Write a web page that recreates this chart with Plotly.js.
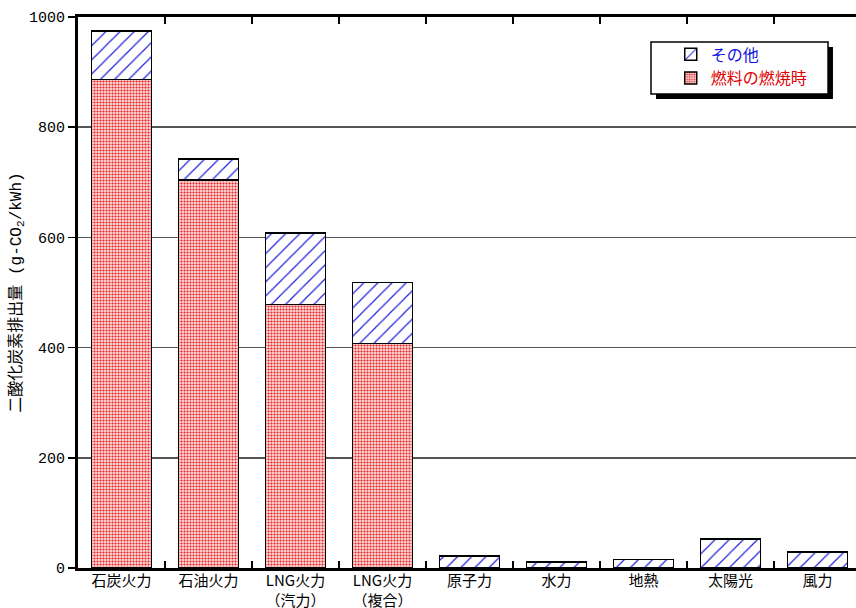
<!DOCTYPE html>
<html><head><meta charset="utf-8">
<script src="https://cdn.plot.ly/plotly-3.0.1.min.js"></script>
<style>html,body{margin:0;padding:0;overflow:hidden;background:#fff;}#chart{width:862px;height:608px;}</style>
</head><body><div id="chart"></div>
<script>
const categories = ["石炭火力","石油火力","LNG火力<br>（汽力）","LNG火力<br>（複合）","原子力","水力","地熱","太陽光","風力"];
const fuelCombustion = [887, 704, 478, 407, 0, 0, 0, 0, 0];
const otherEmission = [88, 38, 130, 111, 22, 11, 15, 53, 29];
const yTicks = [0, 200, 400, 600, 800, 1000];

const FONT = "'Noto Sans CJK JP', 'Noto Sans', sans-serif";
const MONO = "'Liberation Mono', 'DejaVu Sans Mono', 'Noto Sans CJK JP', monospace";

const traces = [
  {
    type: "bar", x: categories, y: fuelCombustion,
    name: "<span style='color:#e00000'>燃料の燃焼時</span>",
    marker: {color: "#f6b6b6", line: {color: "#000", width: 1.5},
      pattern: {shape: ".", fgcolor: "#e82020", bgcolor: "#fcd8d8", size: 3, solidity: 0.4}},
    hoverinfo: "x+y"
  },
  {
    type: "bar", x: categories, y: otherEmission,
    name: "<span style='color:#1010e0'>その他</span>",
    marker: {color: "#ffffff", line: {color: "#000", width: 1.5},
      pattern: {shape: "/", fgcolor: "#2222dd", bgcolor: "#ffffff", size: 10, solidity: 0.12}},
    hoverinfo: "x+y"
  }
];

const layout = {
  width: 862, height: 608,
  margin: {l: 78, r: 1, t: 17, b: 40},
  paper_bgcolor: "#fff", plot_bgcolor: "#fff",
  barmode: "stack", bargap: 0.31,
  font: {family: FONT, size: 14, color: "#000"},
  showlegend: true,
  legend: {
    x: 0.757, y: 0.963, xanchor: "left", yanchor: "top",
    bgcolor: "rgba(0,0,0,0)", borderwidth: 0,
    traceorder: "reversed",
    font: {family: FONT, size: 16},
    itemwidth: 30, tracegroupgap: 0
  },
  xaxis: {
    type: "category", tickson: "boundaries",
    ticks: "inside", ticklen: 7, tickwidth: 1.5, tickcolor: "#000",
    showline: true, linecolor: "#000", linewidth: 3, mirror: "ticks",
    showgrid: false, ticklabelstandoff: -3,
    tickfont: {family: FONT, size: 15, color: "#000"}
  },
  yaxis: {
    range: [0, 1000], tickvals: yTicks, ticktext: yTicks.map(String),
    ticks: "outside", ticklen: 7, tickwidth: 1.5, tickcolor: "#000",
    showline: true, linecolor: "#000", linewidth: 3,
    showgrid: true, gridcolor: "#555", gridwidth: 1.5,
    zeroline: false,
    tickfont: {family: MONO, size: 15, color: "#000"},
    title: {text: "二酸化炭素排出量 (g-CO<sub>2</sub>/kWh)", font: {family: MONO, size: 16}, standoff: 4}
  },
  shapes: [
    {type: "rect", xref: "paper", yref: "paper", x0: 0.7382, x1: 0.9642, y0: 0.8512, y1: 0.9456,
     fillcolor: "#000", line: {width: 0}, layer: "above"},
    {type: "rect", xref: "paper", yref: "paper", x0: 0.7318, x1: 0.9579, y0: 0.8603, y1: 0.9546,
     fillcolor: "#fff", line: {color: "#000", width: 1.5}, layer: "above"}
  ]
};

Plotly.newPlot("chart", traces, layout, {displayModeBar: false, staticPlot: true});
</script></body></html>
